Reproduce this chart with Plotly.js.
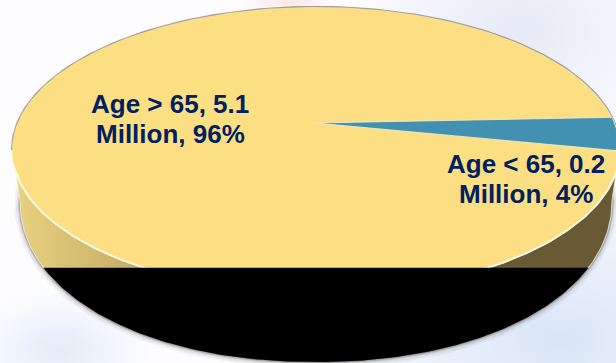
<!DOCTYPE html>
<html><head><meta charset="utf-8">
<script src="https://cdn.plot.ly/plotly-3.0.1.min.js"></script>
<style>
html,body{margin:0;padding:0;width:616px;height:363px;overflow:hidden;background:#fff}
#c{width:616px;height:363px;background:
 radial-gradient(ellipse 90px 60px at 60px 350px,rgba(205,222,243,.55),rgba(205,222,243,0)),
 radial-gradient(ellipse 260px 170px at 560px 340px,rgba(215,228,246,.95),rgba(215,228,246,0)),
 radial-gradient(ellipse 170px 130px at 520px 30px,rgba(226,230,245,.85),rgba(226,230,245,0)),
 radial-gradient(ellipse 50px 12px at 290px 2px,rgba(246,222,222,.7),rgba(246,222,222,0)),
 #fdfdff}
</style></head><body><div id="c"></div>
<script>
var categories=["Age > 65","Age < 65"];
var millions=[5.1,0.2];
var percents=[96,4];
var wedgeStartDeg=-13.2;

var top_={cx:316,cy:150,rx:304,ry:143,n:2}, low={cx:316,cy:200,rx:296,ry:162,n:2.1}, apex=[315,123], cut=268;
function pw(v,e){return (v<0?-1:1)*Math.pow(Math.abs(v),e);}
function pt(e,d){var r=d*Math.PI/180,q=2/e.n;return [e.cx+e.rx*pw(Math.cos(r),q),e.cy+e.ry*pw(Math.sin(r),q)];}
function arc(e,a,b,n){var o=[];for(var i=0;i<=n;i++)o.push(pt(e,a+(b-a)*i/n));return o;}
function tr(p,s){var t={type:'scatter',mode:'lines',x:p.map(function(q){return q[0]}),y:p.map(function(q){return q[1]}),hoverinfo:'skip',showlegend:false,line:{width:0}};for(var k in s)t[k]=s[k];return t;}

var total=millions[0]+millions[1];
var span=360*millions[1]/total;
var wedge=[apex].concat(arc(top_,wedgeStartDeg,wedgeStartDeg+span,12)).concat([apex]);
var major=[apex].concat(arc(top_,wedgeStartDeg+span,wedgeStartDeg+360,240)).concat([apex]);
var body=arc(low,0,180,200).concat([pt(top_,171),pt(top_,9)]);
body.push(body[0]);
var a0=Math.asin(Math.pow((cut-low.cy)/low.ry,low.n/2))*180/Math.PI;
var blackPts=arc(low,a0,180-a0,160); blackPts.push(blackPts[0]);
var shadowPath=[pt(top_,165)].concat(arc(low,180,0,200)).concat([pt(top_,15)]);

var traces=[];
[[13,.05],[9,.07],[5,.12],[3,.2]].forEach(function(s){
  traces.push(tr(shadowPath,{line:{color:'rgba(50,50,55,'+s[1]+')',width:s[0]}}));
});
traces.push(tr(arc(top_,180,360,120),{line:{color:'rgba(120,120,130,.7)',width:2.2}}));
traces.push(tr(body,{fill:'toself',fillcolor:'#c6ad66',fillgradient:{type:'horizontal',colorscale:[[0,'#e8d17f'],[0.2,'#c6ad66'],[0.76,'#675a35'],[1,'#675a35']]},line:{color:'rgba(245,240,220,.75)',width:1}}));
traces.push(tr(major,{fill:'toself',fillcolor:'#fcdf83',line:{width:0}}));
traces.push(tr(arc(top_,6,174,140),{line:{color:'#fffdf2',width:1.8}}));
traces.push(tr(wedge,{fill:'toself',fillcolor:'#4291b0',line:{color:'rgba(250,240,200,.8)',width:1}}));
traces.push(tr(blackPts,{fill:'toself',fillcolor:'#000000',line:{color:'#000000',width:0.5}}));

function note(x,y,t){return {x:x,y:y,xref:'x',yref:'y',text:'<b>'+t+'</b>',showarrow:false,align:'center',font:{family:'Liberation Sans',size:26,color:'#002060'}};}
var layout={width:616,height:363,margin:{l:0,r:0,t:0,b:0},paper_bgcolor:'rgba(0,0,0,0)',plot_bgcolor:'rgba(0,0,0,0)',
 xaxis:{range:[0,616],visible:false,fixedrange:true},
 yaxis:{range:[363,0],visible:false,fixedrange:true},
 showlegend:false,
 annotations:[
  note(170,104,categories[0]+', '+millions[0]),
  note(170,134,'Million, '+percents[0]+'%'),
  note(526,164,categories[1]+', '+millions[1]),
  note(526,194,'Million, '+percents[1]+'%')
 ]};
Plotly.newPlot('c',traces,layout,{displayModeBar:false,staticPlot:true});
</script></body></html>
